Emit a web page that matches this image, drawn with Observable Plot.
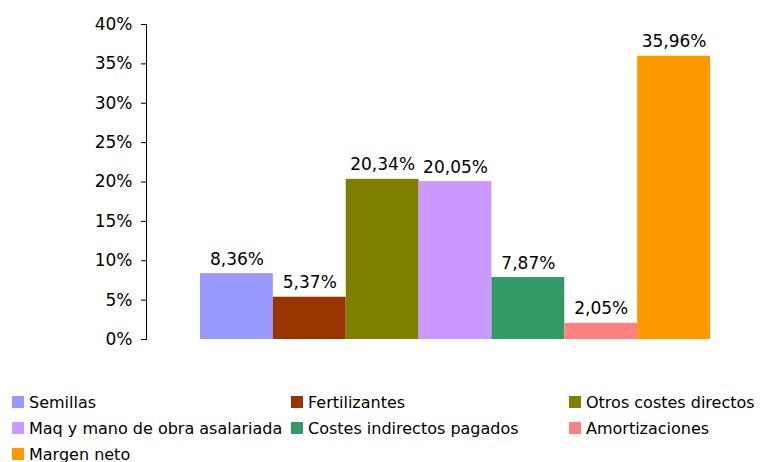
<!DOCTYPE html>
<html>
<head>
<meta charset="utf-8">
<script src="https://cdn.jsdelivr.net/npm/d3@7"></script>
<script src="https://cdn.jsdelivr.net/npm/@observablehq/plot@0.6"></script>
<style>
  body { margin: 0; background: #fff; font-family: "DejaVu Sans", sans-serif; }
  #wrap { position: relative; width: 760px; height: 462px; }
  #chart { position: absolute; left: 0; top: 0; }
  #legend { position: absolute; left: 12px; top: 389px; display: grid;
    grid-template-columns: 279px 278px auto; grid-auto-rows: 26px; font-size: 16px; color: #000; }
  .item { display: flex; align-items: center; white-space: nowrap; }
  .sw { width: 12px; height: 12px; margin-right: 5px; flex: none; }
</style>
</head>
<body>
<div id="wrap"><div id="chart"></div><div id="legend"></div></div>
<script>
const categories = ["Semillas", "Fertilizantes", "Otros costes directos", "Maq y mano de obra asalariada", "Costes indirectos pagados", "Amortizaciones", "Margen neto"];
const values = [8.36, 5.37, 20.34, 20.05, 7.87, 2.05, 35.96];
const colors = ["#9999FF", "#993300", "#808000", "#CC99FF", "#339966", "#FF8080", "#FF9900"];
const yTicks = [0, 5, 10, 15, 20, 25, 30, 35, 40];

const data = categories.map((c, i) => ({cat: c, value: values[i], label: values[i].toFixed(2).replace(".", ",") + "%"}));

const chart = Plot.plot({
  width: 760,
  height: 352,
  marginLeft: 146,
  marginRight: 0,
  marginTop: 24,
  marginBottom: 13,
  style: {fontFamily: "DejaVu Sans, sans-serif", fontSize: "15px", color: "#000", background: "#fff", overflow: "visible"},
  x: {type: "band", domain: categories, range: [200, 710], padding: 0, round: false, axis: null},
  y: {domain: [0, 40], label: null},
  color: {domain: categories, range: colors},
  marks: [
    Plot.barY(data, {x: "cat", y: "value", fill: "cat", inset: 0}),
    Plot.text(data, {x: "cat", y: "value", text: "label", lineAnchor: "bottom", dy: -9, fontSize: 17, fill: "#000"}),
    Plot.frame({anchor: "left", stroke: "#000"}),
    Plot.axisY({ticks: yTicks, tickFormat: d => d + "%", tickSize: 5, tickPadding: 9, fontSize: 17, stroke: "#000", label: null})
  ]
});
document.getElementById("chart").appendChild(chart);

const legend = document.getElementById("legend");
categories.forEach((c, i) => {
  const it = document.createElement("div");
  it.className = "item";
  const sw = document.createElement("span");
  sw.className = "sw";
  sw.style.background = colors[i];
  it.appendChild(sw);
  it.appendChild(document.createTextNode(c));
  legend.appendChild(it);
});
</script>
</body>
</html>
